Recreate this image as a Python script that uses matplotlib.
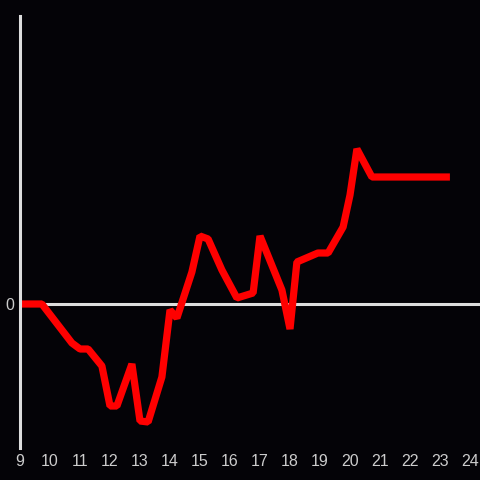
import matplotlib
matplotlib.use("Agg")
import matplotlib.pyplot as plt

# values
x = [9.0, 9.73, 10.73, 11.0, 11.27, 11.73, 12.0, 12.23, 12.73, 13.0, 13.27, 13.73,
     14.0, 14.23, 14.73, 15.0, 15.27, 15.73, 16.23, 16.77, 17.0, 17.23, 17.73, 18.0,
     18.23, 18.93, 19.27, 19.77, 20.0, 20.23, 20.73, 23.33]
y = [0, 0, -3.9, -4.5, -4.5, -6.2, -10.2, -10.2, -6.0, -11.7, -11.8, -7.3,
     -0.6, -1.4, 3.2, 6.8, 6.5, 3.4, 0.6, 1.1, 6.8, 5.1, 1.4, -2.5,
     4.2, 5.1, 5.1, 7.7, 10.9, 15.5, 12.7, 12.7]
xticks = list(range(9, 25))

plt.rcParams["font.family"] = ["Liberation Sans", "DejaVu Sans"]

bg = "#040307"
fig = plt.figure(figsize=(4.8, 4.8), dpi=100, facecolor=bg)
ax = fig.add_axes([20 / 480, 32 / 480, 460 / 480, 432 / 480], facecolor=bg)

ax.axhline(0, color="#dddddd", lw=2.2, zorder=1)
ax.plot(x, y, color="#ff0000", lw=5.2, solid_joinstyle="bevel", solid_capstyle="butt", zorder=2)

ax.set_xlim(9, 24.333)
ax.set_ylim(-14.4, 28.8)
ax.set_xticks(xticks)
ax.set_yticks([0])
ax.tick_params(length=0, colors="#cccccc", labelsize=11.5, pad=4)
ax.tick_params(axis="y", pad=4)

for s in ["top", "right", "bottom"]:
    ax.spines[s].set_visible(False)
ax.spines["left"].set_color("#dddddd")
ax.spines["left"].set_linewidth(2.2)

fig.savefig("out.png", dpi=100, facecolor=bg)
